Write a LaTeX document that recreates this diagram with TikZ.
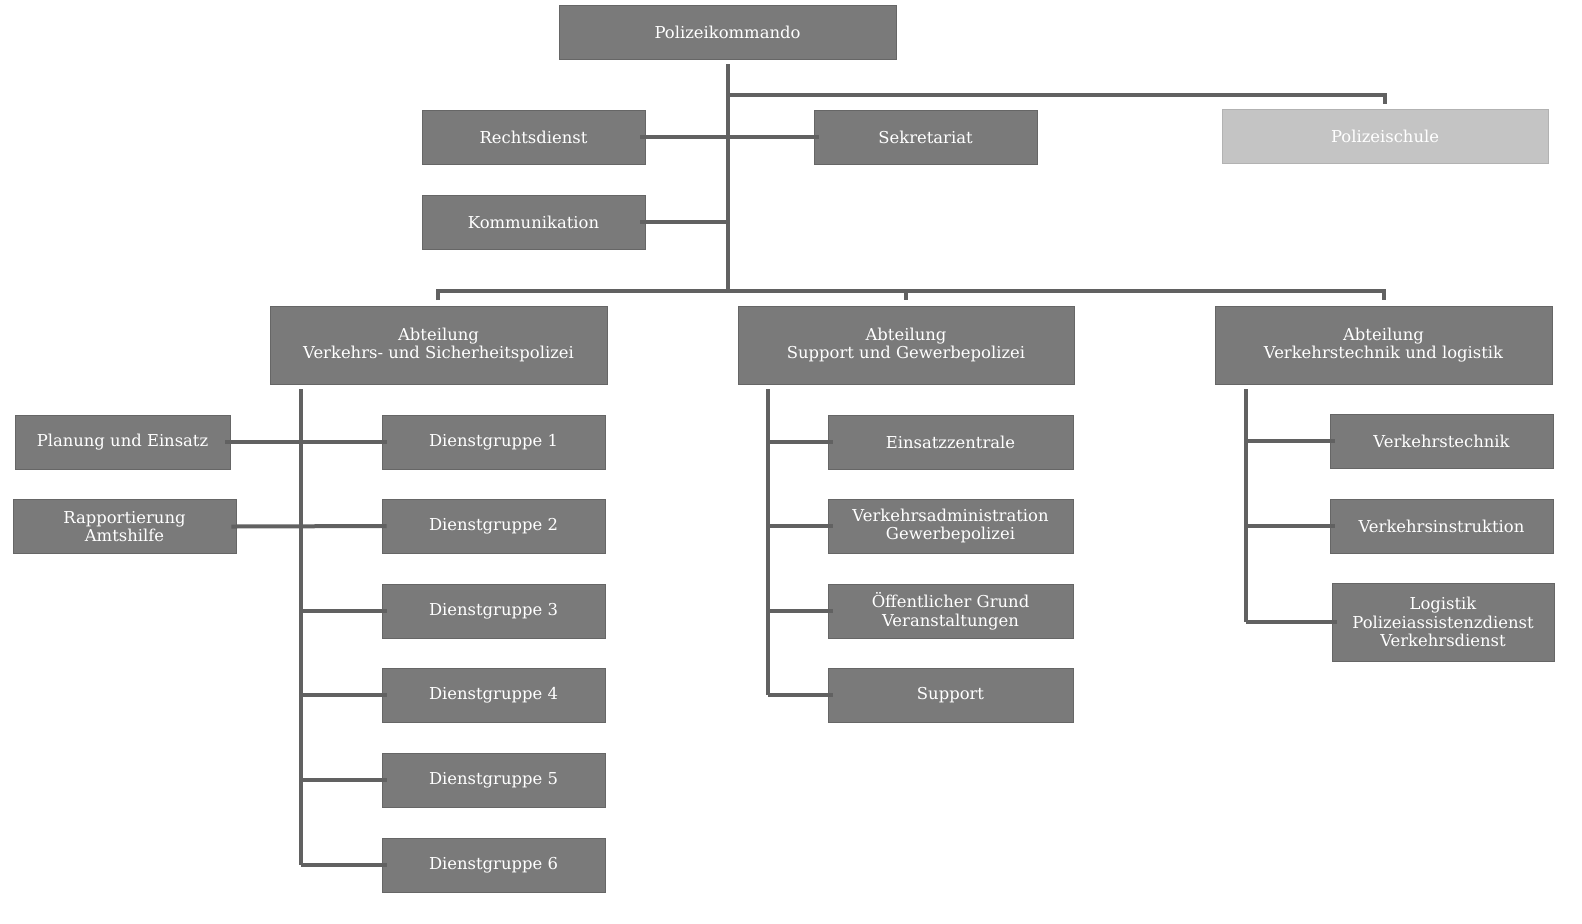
\documentclass[tikz,border=0pt]{standalone}
\usepackage{fontspec}
\setmainfont{DejaVu Serif}
\begin{document}
\begin{tikzpicture}[x=0.5pt,y=-0.5pt,
  box/.style={draw=black!60,fill=black!52,text=white,font=\fontsize{8.2}{9.4}\selectfont,align=center,inner sep=0pt,line width=0.4pt},
  ln/.style={draw=black!62,line width=2pt}]
\useasboundingbox (0,0) rectangle (1582,923);
\newcommand{\bx}[6]{\node[box,minimum width=#4*0.5pt,minimum height=#5*0.5pt,#6] (#1) at (#2,#3) {};}
\node[box,minimum width=168.5pt,minimum height=27pt] (pk) at (727.5,32) {Polizeikommando};
\node[box,minimum width=111.5pt,minimum height=27pt] (rd) at (533.5,137) {Rechtsdienst};
\node[box,minimum width=111.5pt,minimum height=27pt] (sk) at (925.5,137) {Sekretariat};
\node[box,minimum width=111.5pt,minimum height=27pt] (km) at (533.5,222) {Kommunikation};
\node[box,fill=black!23,draw=black!30,minimum width=163pt,minimum height=27pt] (ps) at (1385,136) {Polizeischule};
\node[box,minimum width=168.5pt,minimum height=39pt] (a1) at (438.5,345) {Abteilung\\Verkehrs- und Sicherheitspolizei};
\node[box,minimum width=168pt,minimum height=39pt] (a2) at (906,345) {Abteilung\\Support und Gewerbepolizei};
\node[box,minimum width=168.5pt,minimum height=39pt] (a3) at (1383.5,345) {Abteilung\\Verkehrstechnik und logistik};
\foreach \i/\y in {1/442,2/526,3/611,4/695,5/780,6/865}
  \node[box,minimum width=111.5pt,minimum height=27pt] (d\i) at (493.5,\y) {Dienstgruppe \i};
\node[box,minimum width=107.5pt,minimum height=27pt] (pe) at (122.5,442) {Planung und Einsatz};
\node[box,minimum width=111.5pt,minimum height=27pt] (ra) at (124.5,526.5) {Rapportierung\\Amtshilfe};
\node[box,minimum width=122.5pt,minimum height=27pt] (m1) at (950.5,442) {Einsatzzentrale};
\node[box,minimum width=122.5pt,minimum height=27pt] (m2) at (950.5,526) {Verkehrsadministration\\Gewerbepolizei};
\node[box,minimum width=122.5pt,minimum height=27pt] (m3) at (950.5,611) {Öffentlicher Grund\\Veranstaltungen};
\node[box,minimum width=122.5pt,minimum height=27pt] (m4) at (950.5,695) {Support};
\node[box,minimum width=111.5pt,minimum height=27pt] (r1) at (1441.5,441) {Verkehrstechnik};
\node[box,minimum width=111.5pt,minimum height=27pt] (r2) at (1441.5,526) {Verkehrsinstruktion};
\node[box,minimum width=111pt,minimum height=39pt] (r3) at (1443,622) {Logistik\\Polizeiassistenzdienst\\Verkehrsdienst};
% top connectors
\coordinate (tb) at (728,291);
\draw[ln] (728,64) -- (tb);
\draw[ln] (728,95) -- (1385,95) -- (1385,104);
\draw[ln] ([xshift=-2.5pt]rd.east) -- ([xshift=2.5pt]sk.west);
\draw[ln] ([xshift=-2.5pt]km.east) -- (728,222);
\draw[ln] (438,300) -- (438,291) -- (1384,291) -- (1384,300);
\draw[ln] (906,291) -- (906,300);
% left dept
\draw[ln] (301,389) -- (301,865);
\foreach \i in {3,4,5,6} \draw[ln] (301,0 |- d\i.west) -- ([xshift=2.5pt]d\i.west);
\draw[ln] ([xshift=-2.5pt]pe.east) -- ([xshift=2.5pt]d1.west);
\draw[ln] ([xshift=-2.5pt]ra.east) -- ([xshift=2.5pt]d2.west);
% middle
\draw[ln] (768,389) -- (768,695);
\foreach \i in {1,2,3,4} \draw[ln] (768,0 |- m\i.west) -- ([xshift=2.5pt]m\i.west);
% right
\draw[ln] (1246,389) -- (1246,622);
\foreach \i in {1,2,3} \draw[ln] (1246,0 |- r\i.west) -- ([xshift=2.5pt]r\i.west);
\end{tikzpicture}
\end{document}
